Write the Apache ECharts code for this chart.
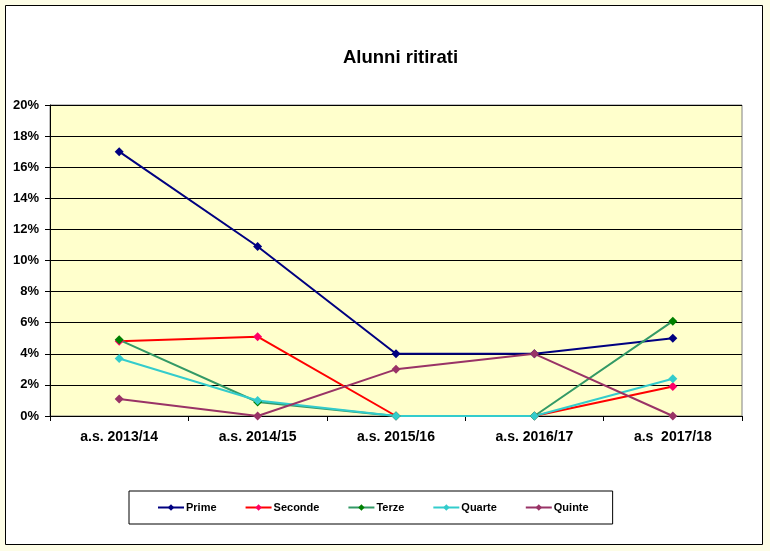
<!DOCTYPE html>
<html><head><meta charset="utf-8">
<script src="https://cdn.jsdelivr.net/npm/echarts@6/dist/echarts.min.js"></script>
<style>html,body{margin:0;padding:0;background:#fdfde6;}#c{width:770px;height:551px;}</style>
</head><body><div id="c"></div>
<script>
const categories = ['a.s. 2013/14','a.s. 2014/15','a.s. 2015/16','a.s. 2016/17','a.s  2017/18'];
const prime   = [17.0, 10.9, 4.0, 4.0, 5.0];
const seconde = [4.8, 5.1, 0, 0, 1.9];
const terze   = [4.9, 0.9, 0, 0, 6.1];
const quarte  = [3.7, 1.0, 0, 0, 2.4];
const quinte  = [1.1, 0, 3.0, 4.0, 0];
const yTicks = {min: 0, max: 20, interval: 2};

const font = 'Liberation Sans, Arial, sans-serif';
function s(name, data, line, marker) {
  return {name, type:'line', data, symbol:'diamond', symbolSize:9,
    lineStyle:{color:line, width:2}, itemStyle:{color:marker},
    emphasis:{disabled:true}, animation:false};
}
const chart = echarts.init(document.getElementById('c'));
chart.setOption({
  animation:false,
  backgroundColor:'transparent',
  graphic:[{type:'rect', z:-10, shape:{x:5.5,y:5.5,width:757,height:539},
    style:{fill:'#ffffff', stroke:'#000', lineWidth:1}}],
  title:{text:'Alunni ritirati', left:338, top:43, itemGap:0,
    textStyle:{fontFamily:font, fontSize:18.5, fontWeight:'bold', color:'#000'}},
  grid:{left:50, right:28, top:105, bottom:135, show:true,
    backgroundColor:'#ffffcc', borderColor:'#808080', borderWidth:1},
  legend:{left:129, top:491, padding:[11,24,11,28], itemGap:28, itemWidth:26, itemHeight:8,
    borderColor:'#000', borderWidth:1, backgroundColor:'#fff',
    textStyle:{fontFamily:font, fontSize:11, fontWeight:'bold', color:'#000', padding:[0,0,0,-3]}},
  xAxis:{type:'category', data:categories, boundaryGap:true,
    axisLine:{lineStyle:{color:'#000'}},
    axisTick:{show:true, inside:false, length:5, lineStyle:{color:'#000'}},
    axisLabel:{fontFamily:font, fontSize:14, fontWeight:'bold', color:'#000', margin:14},
    splitLine:{show:false}},
  yAxis:{type:'value', min:yTicks.min, max:yTicks.max, interval:yTicks.interval,
    axisLine:{show:true, lineStyle:{color:'#000'}},
    axisTick:{show:true, inside:false, length:5, lineStyle:{color:'#000'}},
    axisLabel:{fontFamily:font, fontSize:13, fontWeight:'bold', color:'#000', margin:11,
      formatter: v => v + '%'},
    splitLine:{show:true, lineStyle:{color:'#000', width:1}}},
  series:[
    s('Prime', prime, '#000080', '#000080'),
    s('Seconde', seconde, '#ff0000', '#ff0066'),
    s('Terze', terze, '#339966', '#008000'),
    s('Quarte', quarte, '#33cccc', '#33cccc'),
    s('Quinte', quinte, '#993366', '#993366')
  ]
});
</script></body></html>
